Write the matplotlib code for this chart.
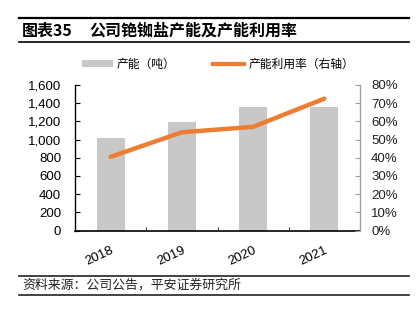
import matplotlib
matplotlib.use("Agg")
import matplotlib.pyplot as plt
from matplotlib.lines import Line2D
from matplotlib.patches import Patch
from matplotlib.ticker import FuncFormatter, MultipleLocator

years = ["2018", "2019", "2020", "2021"]
capacity = [1015, 1190, 1360, 1360]
utilization = [40.5, 54.0, 57.0, 72.5]

CJK = ["Noto Sans CJK SC", "DejaVu Sans"]
NUM = ["Liberation Sans", "DejaVu Sans"]

fig = plt.figure(figsize=(4.16, 3.21), dpi=100)
W, H = 416, 321
def fx(x): return x / W
def fy(y): return 1 - y / H

ax = fig.add_axes([fx(75), fy(230.5), fx(360) - fx(75), fy(85) - fy(230.5)])
ax2 = ax.twinx()

bar_color = "#C8C8C8"
line_color = "#ED7D31"

x = list(range(len(years)))
ax.bar(x, capacity, width=0.39, color=bar_color, zorder=1)
ax2.plot(x, utilization, color=line_color, lw=3.2, solid_capstyle="round", zorder=3)

ax.set_xlim(-0.5, len(years) - 0.5)
ax.set_ylim(0, 1600)
ax2.set_ylim(0, 80)
ax.yaxis.set_major_locator(MultipleLocator(200))
ax2.yaxis.set_major_locator(MultipleLocator(10))
ax.yaxis.set_major_formatter(FuncFormatter(lambda v, p: f"{int(v):,}"))
ax2.yaxis.set_major_formatter(FuncFormatter(lambda v, p: f"{int(v)}%"))

ax.set_xticks([0.5, 1.5, 2.5], minor=False)
ax.set_xticklabels([])
ax.set_xticks(x, minor=True)
ax.set_xticklabels(years, minor=True, rotation=25, ha="right", rotation_mode="anchor",
                   fontsize=9.5, family=NUM)
ax.tick_params(axis="x", which="major", direction="in", length=3, width=0.8, color="#333333")
ax.tick_params(axis="x", which="minor", length=0, pad=10)

ax.tick_params(axis="y", direction="in", length=3.5, width=0.8, pad=10, labelsize=9.5)
ax2.tick_params(axis="y", direction="in", length=3.5, width=0.8, pad=8, labelsize=9.5,
                color="#A0A0A0", labelcolor="#222222")
for lab in ax.get_yticklabels() + ax2.get_yticklabels():
    lab.set_family(NUM)

for a in (ax, ax2):
    a.spines["top"].set_visible(False)
ax2.spines["left"].set_visible(False)
ax2.spines["bottom"].set_visible(False)
ax.spines["right"].set_visible(False)
ax.spines["left"].set_color("#000000")
ax.spines["bottom"].set_color("#000000")
ax.spines["left"].set_linewidth(1.0)
ax.spines["bottom"].set_linewidth(1.2)
ax2.spines["right"].set_color("#A0A0A0")
ax2.spines["right"].set_linewidth(1.0)

handles = [Patch(facecolor=bar_color, edgecolor="none"),
           Line2D([0], [0], color=line_color, lw=3)]
labels = ["产能（吨）", "产能利用率（右轴）"]
fig.legend(handles, labels, loc="center", bbox_to_anchor=(fx(218), fy(64)), ncol=2,
           frameon=False, prop={"family": CJK, "size": 8.5}, handlelength=2.6,
           handleheight=0.55, columnspacing=3.2, handletextpad=0.35)

# title and rules
fig.add_artist(Line2D([fx(19), fx(409)], [fy(18), fy(18)], color="#000000", lw=1.6))
fig.add_artist(Line2D([fx(19), fx(409)], [fy(42), fy(42)], color="#000000", lw=1.2))
fig.text(fx(22), fy(31), "图表35", family=CJK, fontsize=11.5, fontweight="bold", va="center")
fig.text(fx(89), fy(31), "公司铯铷盐产能及产能利用率", family=CJK, fontsize=11.5,
         fontweight="bold", va="center")

fig.add_artist(Line2D([fx(19), fx(409)], [fy(276), fy(276)], color="#222222", lw=1.2))
fig.add_artist(Line2D([fx(19), fx(409)], [fy(295), fy(295)], color="#222222", lw=1.2))
fig.text(fx(22), fy(285.5), "资料来源：公司公告，平安证券研究所", family=CJK, fontsize=9.3,
         style="italic", va="center", color="#222222")

fig.savefig("out.png", dpi=100)
